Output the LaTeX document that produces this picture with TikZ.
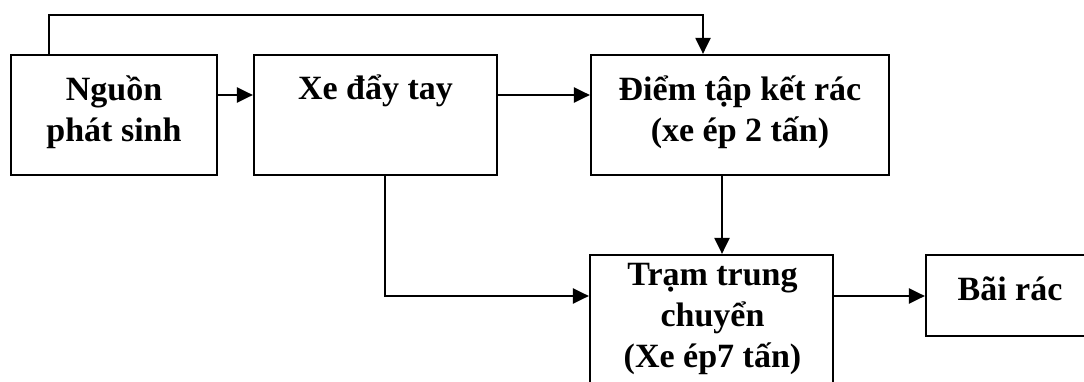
\documentclass[tikz,border=0pt]{standalone}
\usepackage{fontspec}
\setmainfont{Liberation Serif}
\usetikzlibrary{arrows.meta}
\begin{document}
\begin{tikzpicture}[x=1pt,y=-1pt,
  box/.style={draw,line width=2.2pt,rectangle,inner sep=0pt},
  lbl/.style={font=\bfseries\fontsize{34}{41}\selectfont,align=center,inner sep=0pt},
  arr/.style={line width=2.2pt,-{Triangle[length=16pt,width=15pt]}}]
\useasboundingbox (0,0) rectangle (1084,382);
\clip (0,0) rectangle (1084,382);
\fill[white] (0,0) rectangle (1084,382);

% boxes
\node[box,minimum width=206pt,minimum height=120pt] (src) at (114,115) {};
\node[box,minimum width=243pt,minimum height=120pt] (cart) at (375.5,115) {};
\node[box,minimum width=298pt,minimum height=120pt] (point) at (740,115) {};
\node[box,minimum width=243pt,minimum height=165pt] (station) at (711.5,337.5) {};
\node[box,minimum width=174pt,minimum height=81pt] (landfill) at (1013,295.5) {};

% labels
\node[lbl,anchor=base] (srcT) at (114,142) {Nguồn\\phát sinh};
\node[lbl,anchor=base] (cartT) at (375.5,100) {Xe đẩy tay};
\node[lbl,anchor=base] (pointT) at (740,142) {Điểm tập kết rác\\(xe ép 2 tấn)};
\node[lbl,anchor=base] (stationT) at (712.5,367) {Trạm trung\\chuyển\\(Xe ép7 tấn)};
\node[lbl,anchor=base] (landfillT) at (1010,300) {Bãi rác};

% routing points
\coordinate (row) at (0,95);
\coordinate (loopL) at (49,15);
\coordinate (loopR) at (703,15);
\coordinate (dropX) at (722,0);
\coordinate (cartX) at (385,296);

% connectors
\draw[arr] (src.east |- row) -- (cart.west |- row);
\draw[arr] (cart.east |- row) -- (point.west |- row);
\draw[arr] (src.north -| loopL) -- (loopL) -- (loopR) -- (point.north -| loopR);
\draw[arr] (point.south -| dropX) -- (station.north -| dropX);
\draw[arr] (cart.south -| cartX) -- (cartX) -- (station.west |- cartX);
\draw[arr] (station.east |- cartX) -- (landfill.west |- cartX);
\end{tikzpicture}
\end{document}
